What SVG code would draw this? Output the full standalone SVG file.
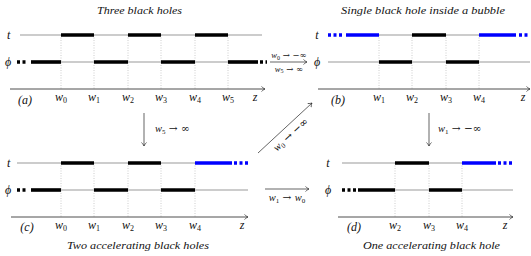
<svg xmlns="http://www.w3.org/2000/svg" width="531" height="256" viewBox="0 0 531 256" font-family="'Liberation Serif','DejaVu Serif',serif">
<defs>
<style>
.g{stroke:#9a9a9a;stroke-width:1.2;fill:none}
.k{stroke:#000;stroke-width:3.6;fill:none}
.b{stroke:#0000ff;stroke-width:3.6;fill:none}
.kd{stroke:#000;stroke-width:3.6;fill:none;stroke-dasharray:3 2.5}
.bd{stroke:#0000ff;stroke-width:3.6;fill:none;stroke-dasharray:3 2.5}
.v{stroke:#b8b8b8;stroke-width:0.7;fill:none;stroke-dasharray:1 1.5}
.ax{stroke:#222;stroke-width:0.8;fill:none;marker-end:url(#ah)}
.ar{stroke:#222;stroke-width:0.7;fill:none;marker-end:url(#ah)}
text{font-family:"Liberation Serif","DejaVu Serif",serif;fill:#111}
.lab{font-size:12px;font-style:italic}
.ttl{font-size:11px;font-style:italic}
.sm{font-size:8.5px}
.md{font-size:10.5px}
.it{font-style:italic}
.sb{font-style:normal}
.sy{font-family:"DejaVu Serif",serif;font-style:normal}
</style>
<marker id="ah" viewBox="-4 -3 5 6" refX="0" refY="0" markerWidth="5" markerHeight="6" markerUnits="userSpaceOnUse" orient="auto">
<path d="M-3.5,-2.5 C-2,-1 -0.6,-0.3 0,0 C-0.6,0.3 -2,1 -3.5,2.5" fill="none" stroke="#222" stroke-width="0.7"/>
</marker>
</defs>
<rect width="531" height="256" fill="#fff"/>

<g id="panel-a">
<text class="ttl" x="139.5" y="14" text-anchor="middle" textLength="85" lengthAdjust="spacingAndGlyphs">Three black holes</text>
<line class="v" x1="61" y1="35" x2="61" y2="89"/><line class="v" x1="94" y1="35" x2="94" y2="89"/><line class="v" x1="128" y1="35" x2="128" y2="89"/><line class="v" x1="161" y1="35" x2="161" y2="89"/><line class="v" x1="195" y1="35" x2="195" y2="89"/><line class="v" x1="228" y1="35" x2="228" y2="89"/>
<line class="g" x1="20" y1="35" x2="262" y2="35"/>
<line class="k" x1="61" y1="35" x2="94" y2="35"/><line class="k" x1="128" y1="35" x2="161" y2="35"/><line class="k" x1="195" y1="35" x2="228" y2="35"/>
<line class="g" x1="31" y1="62" x2="258" y2="62"/>
<line class="kd" x1="17" y1="62" x2="26" y2="62"/>
<line class="k" x1="31" y1="62" x2="61" y2="62"/><line class="k" x1="94" y1="62" x2="128" y2="62"/><line class="k" x1="161" y1="62" x2="195" y2="62"/><line class="k" x1="228" y1="62" x2="258" y2="62"/>
<line class="kd" x1="260" y1="62" x2="267" y2="62"/>
<line class="ax" x1="10" y1="89" x2="265" y2="89"/>
<text class="lab" x="7" y="39">t</text>
<text class="lab" x="5" y="66">ϕ</text>
<text class="lab" x="25" y="104" text-anchor="middle">(a)</text>
<text class="lab" x="61" y="101" text-anchor="middle">w<tspan class="sb" font-size="8" dy="2">0</tspan></text>
<text class="lab" x="94" y="101" text-anchor="middle">w<tspan class="sb" font-size="8" dy="2">1</tspan></text>
<text class="lab" x="128" y="101" text-anchor="middle">w<tspan class="sb" font-size="8" dy="2">2</tspan></text>
<text class="lab" x="161" y="101" text-anchor="middle">w<tspan class="sb" font-size="8" dy="2">3</tspan></text>
<text class="lab" x="195" y="101" text-anchor="middle">w<tspan class="sb" font-size="8" dy="2">4</tspan></text>
<text class="lab" x="228" y="101" text-anchor="middle">w<tspan class="sb" font-size="8" dy="2">5</tspan></text>
<text class="lab" x="255" y="101" text-anchor="middle">z</text>
</g>

<g id="panel-b">
<text class="ttl" x="423" y="14" text-anchor="middle" textLength="164" lengthAdjust="spacingAndGlyphs">Single black hole inside a bubble</text>
<line class="v" x1="379" y1="35" x2="379" y2="89"/><line class="v" x1="412" y1="35" x2="412" y2="89"/><line class="v" x1="446" y1="35" x2="446" y2="89"/><line class="v" x1="479" y1="35" x2="479" y2="89"/>
<line class="bd" x1="328" y1="35" x2="343" y2="35"/>
<line class="b" x1="346" y1="35" x2="379" y2="35"/>
<line class="g" x1="379" y1="35" x2="479" y2="35"/>
<line class="k" x1="412" y1="35" x2="446" y2="35"/>
<line class="b" x1="479" y1="35" x2="516" y2="35"/>
<line class="bd" x1="519" y1="35" x2="529" y2="35"/>
<line class="g" x1="328" y1="62" x2="530" y2="62"/>
<line class="k" x1="379" y1="62" x2="412" y2="62"/><line class="k" x1="446" y1="62" x2="479" y2="62"/>
<line class="ax" x1="318" y1="89" x2="530" y2="89"/>
<text class="lab" x="317" y="39" text-anchor="middle">t</text>
<text class="lab" x="317" y="66" text-anchor="middle">ϕ</text>
<text class="lab" x="338" y="104" text-anchor="middle">(b)</text>
<text class="lab" x="379" y="101" text-anchor="middle">w<tspan class="sb" font-size="8" dy="2">1</tspan></text>
<text class="lab" x="412" y="101" text-anchor="middle">w<tspan class="sb" font-size="8" dy="2">2</tspan></text>
<text class="lab" x="446" y="101" text-anchor="middle">w<tspan class="sb" font-size="8" dy="2">3</tspan></text>
<text class="lab" x="479" y="101" text-anchor="middle">w<tspan class="sb" font-size="8" dy="2">4</tspan></text>
<text class="lab" x="523" y="101" text-anchor="middle">z</text>
</g>

<g id="panel-c">
<text class="ttl" x="138" y="249" text-anchor="middle" textLength="142" lengthAdjust="spacingAndGlyphs">Two accelerating black holes</text>
<line class="v" x1="61" y1="163" x2="61" y2="217"/><line class="v" x1="94" y1="163" x2="94" y2="217"/><line class="v" x1="128" y1="163" x2="128" y2="217"/><line class="v" x1="161" y1="163" x2="161" y2="217"/><line class="v" x1="195" y1="163" x2="195" y2="217"/>
<line class="g" x1="17" y1="163" x2="195" y2="163"/>
<line class="k" x1="61" y1="163" x2="94" y2="163"/><line class="k" x1="128" y1="163" x2="161" y2="163"/>
<line class="b" x1="195" y1="163" x2="232" y2="163"/>
<line class="bd" x1="234" y1="163" x2="248" y2="163"/>
<line class="g" x1="31" y1="190" x2="248" y2="190"/>
<line class="kd" x1="17" y1="190" x2="26" y2="190"/>
<line class="k" x1="31" y1="190" x2="61" y2="190"/><line class="k" x1="94" y1="190" x2="128" y2="190"/><line class="k" x1="161" y1="190" x2="195" y2="190"/>
<line class="ax" x1="11" y1="217" x2="248" y2="217"/>
<text class="lab" x="7" y="167">t</text>
<text class="lab" x="5" y="194">ϕ</text>
<text class="lab" x="27" y="231" text-anchor="middle">(c)</text>
<text class="lab" x="61" y="229" text-anchor="middle">w<tspan class="sb" font-size="8" dy="2">0</tspan></text>
<text class="lab" x="94" y="229" text-anchor="middle">w<tspan class="sb" font-size="8" dy="2">1</tspan></text>
<text class="lab" x="128" y="229" text-anchor="middle">w<tspan class="sb" font-size="8" dy="2">2</tspan></text>
<text class="lab" x="161" y="229" text-anchor="middle">w<tspan class="sb" font-size="8" dy="2">3</tspan></text>
<text class="lab" x="195" y="229" text-anchor="middle">w<tspan class="sb" font-size="8" dy="2">4</tspan></text>
<text class="lab" x="242" y="229" text-anchor="middle">z</text>
</g>

<g id="panel-d">
<text class="ttl" x="431.5" y="249" text-anchor="middle" textLength="137" lengthAdjust="spacingAndGlyphs">One accelerating black hole</text>
<line class="v" x1="395" y1="163" x2="395" y2="217"/><line class="v" x1="429" y1="163" x2="429" y2="217"/><line class="v" x1="462" y1="163" x2="462" y2="217"/>
<line class="g" x1="342" y1="163" x2="462" y2="163"/>
<line class="k" x1="395" y1="163" x2="429" y2="163"/>
<line class="b" x1="462" y1="163" x2="496" y2="163"/>
<line class="bd" x1="498" y1="163" x2="513" y2="163"/>
<line class="g" x1="358" y1="190" x2="513" y2="190"/>
<line class="kd" x1="342" y1="190" x2="356" y2="190"/>
<line class="k" x1="358" y1="190" x2="395" y2="190"/><line class="k" x1="429" y1="190" x2="462" y2="190"/>
<line class="ax" x1="338" y1="217" x2="513" y2="217"/>
<text class="lab" x="328" y="167" text-anchor="middle">t</text>
<text class="lab" x="328" y="194" text-anchor="middle">ϕ</text>
<text class="lab" x="354" y="231" text-anchor="middle">(d)</text>
<text class="lab" x="395" y="229" text-anchor="middle">w<tspan class="sb" font-size="8" dy="2">2</tspan></text>
<text class="lab" x="429" y="229" text-anchor="middle">w<tspan class="sb" font-size="8" dy="2">3</tspan></text>
<text class="lab" x="462" y="229" text-anchor="middle">w<tspan class="sb" font-size="8" dy="2">4</tspan></text>
<text class="lab" x="505" y="229" text-anchor="middle">z</text>
</g>

<g id="connectors">
<line class="ar" x1="270" y1="62" x2="307" y2="62"/>
<text class="sm" x="289" y="58" text-anchor="middle"><tspan class="it">w</tspan><tspan font-size="6" dy="1.5">0</tspan><tspan class="sy" dy="-1.5"> → −∞</tspan></text>
<text class="sm" x="289" y="71.5" text-anchor="middle"><tspan class="it">w</tspan><tspan font-size="6" dy="1.5">5</tspan><tspan class="sy" dy="-1.5"> → ∞</tspan></text>

<line class="ar" x1="144" y1="113" x2="144" y2="146"/>
<text class="md" x="155" y="132"><tspan class="it">w</tspan><tspan font-size="7" dy="2">5</tspan><tspan class="sy" dy="-2"> → ∞</tspan></text>

<line class="ar" x1="429" y1="113" x2="429" y2="146"/>
<text class="md" x="438" y="132"><tspan class="it">w</tspan><tspan font-size="7" dy="2">1</tspan><tspan class="sy" dy="-2"> → −∞</tspan></text>

<line class="ar" x1="258" y1="153" x2="312" y2="103"/>
<text class="md" transform="translate(293,137) rotate(-42.8)" text-anchor="middle"><tspan class="it">w</tspan><tspan font-size="7" dy="2">0</tspan><tspan class="sy" dy="-2"> → −∞</tspan></text>

<line class="ar" x1="265" y1="189" x2="309" y2="189"/>
<text class="md" x="287" y="201" text-anchor="middle"><tspan class="it">w</tspan><tspan font-size="7" dy="2">1</tspan><tspan class="sy" dy="-2"> → </tspan><tspan class="it">w</tspan><tspan font-size="7" dy="2">0</tspan></text>
</g>
</svg>
